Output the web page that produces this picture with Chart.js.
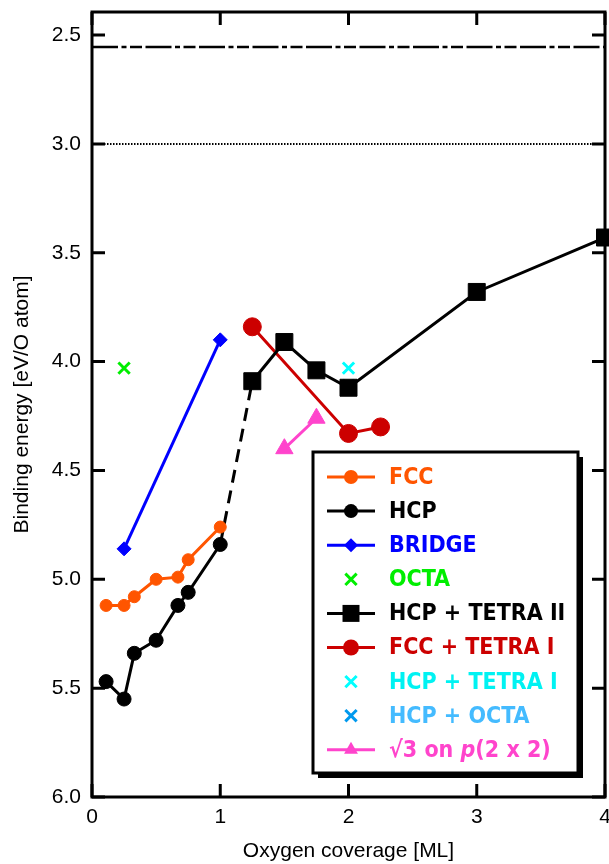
<!DOCTYPE html>
<html>
<head>
<meta charset="utf-8">
<script src="https://cdn.jsdelivr.net/npm/chart.js@4/dist/chart.umd.min.js"></script>
<style>
  html, body { margin: 0; padding: 0; background: #fff; }
</style>
</head>
<body>
<canvas id="energyChart" width="609" height="864"></canvas>
<script>
// values (x = coverage in ML, y = binding energy in eV/O atom)
var fccX = [0.11, 0.25, 0.33, 0.5, 0.67, 0.75, 1.0];
var fccY = [5.12, 5.12, 5.08, 5.0, 4.99, 4.91, 4.76];
var hcpX = [0.11, 0.25, 0.33, 0.5, 0.67, 0.75, 1.0];
var hcpY = [5.47, 5.55, 5.34, 5.28, 5.12, 5.06, 4.84];
var bridgeX = [0.25, 1.0];
var bridgeY = [4.86, 3.90];
var octaX = [0.25];
var octaY = [4.03];
var hcpTetra2X = [1.25, 1.5, 1.75, 2.0, 3.0, 4.0];
var hcpTetra2Y = [4.09, 3.91, 4.04, 4.12, 3.68, 3.43];
var fccTetra1X = [1.25, 2.0, 2.25];
var fccTetra1Y = [3.84, 4.33, 4.30];
var hcpTetra1X = [2.0];
var hcpTetra1Y = [4.03];
var hcpOctaX = [2.0];
var hcpOctaY = [4.11];
var sqrt3X = [1.5, 1.75];
var sqrt3Y = [4.40, 4.26];
var refLevels = [2.555, 3.0]; // dash-dot and dotted horizontal lines

var xTicks = [0, 1, 2, 3, 4];
var yTicks = [2.5, 3.0, 3.5, 4.0, 4.5, 5.0, 5.5, 6.0];

function pts(xs, ys) {
    return xs.map(function (x, i) { return { x: x, y: ys[i] }; });
}

var lastHcp = hcpX.length - 1;

// series: line + marker
function series(label, xs, ys, color, style, radius, textColor, opts) {
    var ds = {
        label: label,
        data: pts(xs, ys),
        showLine: true,
        borderColor: color,
        backgroundColor: color,
        borderWidth: 3,
        pointStyle: style,
        pointRadius: radius,
        pointHoverRadius: radius,
        pointBorderWidth: 1,
        pointBackgroundColor: color,
        pointBorderColor: color,
        clip: false,
        legendColor: textColor || color,
        legendLine: true
    };
    if (opts) Object.assign(ds, opts);
    return ds;
}

var datasets = [
    series('FCC', fccX, fccY, '#ff5500', 'circle', 6, null, { legendRadius: 7 }),
    series('HCP', hcpX, hcpY, '#000000', 'circle', 7, null, { legendRadius: 7 }),
    series('BRIDGE', bridgeX, bridgeY, '#0000ff', 'rectRot', 7, null, { legendRadius: 7 }),
    series('OCTA', octaX, octaY, '#00ee00', 'crossRot', 8, null,
        { showLine: false, pointBorderWidth: 3, legendLine: false, legendRadius: 8 }),
    series('HCP + TETRA II', hcpTetra2X, hcpTetra2Y, '#000000', 'rect', 12, null, { legendRadius: 12 }),
    series('FCC + TETRA I', fccTetra1X, fccTetra1Y, '#cc0000', 'circle', 9, null, { legendRadius: 8 }),
    series('HCP + TETRA I', hcpTetra1X, hcpTetra1Y, '#00ffff', 'crossRot', 8, '#00f2f2',
        { showLine: false, pointBorderWidth: 3, legendLine: false, legendRadius: 8 }),
    series('HCP + OCTA', hcpOctaX, hcpOctaY, '#0099ee', 'crossRot', 8, '#44bbff',
        { showLine: false, pointBorderWidth: 3, legendLine: false, legendRadius: 8 }),
    series('√3 on p(2 x 2)', sqrt3X, sqrt3Y, '#ff44cc', 'triangle', 10, null, { legendRadius: 8 }),
    // dashed link between HCP and HCP + TETRA II
    {
        label: '', data: [
            { x: hcpX[lastHcp], y: hcpY[lastHcp] },
            { x: hcpTetra2X[0], y: hcpTetra2Y[0] }
        ],
        showLine: true, borderColor: '#000', borderWidth: 3, borderDash: [13, 8],
        pointRadius: 0, noLegend: true
    },
    {
        label: '', data: [{ x: xTicks[0], y: refLevels[0] }, { x: xTicks[xTicks.length - 1], y: refLevels[0] }],
        showLine: true, borderColor: '#000', borderWidth: 2.5, borderDash: [26, 3.5, 5, 3.5, 12, 3.5],
        pointRadius: 0, noLegend: true
    },
    {
        label: '', data: [{ x: xTicks[0], y: refLevels[1] }, { x: xTicks[xTicks.length - 1], y: refLevels[1] }],
        showLine: true, borderColor: '#000', borderWidth: 2, borderDash: [1.5, 1.5],
        pointRadius: 0, noLegend: true
    }
];

function drawMarker(ctx, style, x, y, r, color) {
    ctx.save();
    ctx.fillStyle = color;
    ctx.strokeStyle = color;
    ctx.beginPath();
    if (style === 'circle') {
        ctx.arc(x, y, r, 0, Math.PI * 2);
        ctx.fill();
    } else if (style === 'rect') {
        var s = r * Math.SQRT1_2;
        ctx.fillRect(x - s, y - s, 2 * s, 2 * s);
    } else if (style === 'rectRot') {
        ctx.moveTo(x, y - r); ctx.lineTo(x + r, y); ctx.lineTo(x, y + r); ctx.lineTo(x - r, y);
        ctx.closePath(); ctx.fill();
    } else if (style === 'triangle') {
        var h = r * Math.sqrt(3) / 2;
        ctx.moveTo(x, y - r); ctx.lineTo(x + h, y + r / 2); ctx.lineTo(x - h, y + r / 2);
        ctx.closePath(); ctx.fill();
    } else if (style === 'crossRot') {
        var d = r * Math.SQRT1_2;
        ctx.lineWidth = 3;
        ctx.moveTo(x - d, y - d); ctx.lineTo(x + d, y + d);
        ctx.moveTo(x + d, y - d); ctx.lineTo(x - d, y + d);
        ctx.stroke();
    }
    ctx.restore();
}

// frame and inward ticks on all four sides
var framePlugin = {
    id: 'frame',
    beforeDatasetsDraw: function (chart) {
        var ctx = chart.ctx, a = chart.chartArea;
        var xs = chart.scales.x, ys = chart.scales.y;
        var len = 13;
        ctx.save();
        ctx.strokeStyle = '#000';
        ctx.lineWidth = 3;
        ctx.beginPath();
        xTicks.forEach(function (v) {
            var px = xs.getPixelForValue(v);
            ctx.moveTo(px, a.bottom); ctx.lineTo(px, a.bottom - len);
            ctx.moveTo(px, a.top); ctx.lineTo(px, a.top + len);
        });
        yTicks.forEach(function (v) {
            var py = ys.getPixelForValue(v);
            ctx.moveTo(a.left, py); ctx.lineTo(a.left + len, py);
            ctx.moveTo(a.right, py); ctx.lineTo(a.right - len, py);
        });
        ctx.stroke();
        ctx.strokeRect(a.left, a.top, a.right - a.left, a.bottom - a.top);
        ctx.restore();
    }
};

// boxed legend with drop shadow inside the plot
var legendPlugin = {
    id: 'boxLegend',
    afterDraw: function (chart) {
        var ctx = chart.ctx, a = chart.chartArea;
        var bx = a.left + 221, by = 452, bw = 265, bh = 321;
        ctx.save();
        ctx.fillStyle = '#000';
        ctx.fillRect(bx + 5, by + 5, bw, bh);
        ctx.fillStyle = '#fff';
        ctx.fillRect(bx, by, bw, bh);
        ctx.strokeStyle = '#000';
        ctx.lineWidth = 3;
        ctx.strokeRect(bx, by, bw, bh);

        var items = chart.data.datasets.filter(function (d) { return !d.noLegend; });
        var rowH = 34.1, y0 = by + 25;
        var symX = bx + 38, textX = bx + 76;
        items.forEach(function (d, i) {
            var y = y0 + i * rowH;
            if (d.legendLine) {
                ctx.strokeStyle = d.borderColor;
                ctx.lineWidth = 3;
                ctx.beginPath();
                ctx.moveTo(symX - 24, y); ctx.lineTo(symX + 24, y);
                ctx.stroke();
            }
            drawMarker(ctx, d.pointStyle, symX, y, d.legendRadius, d.pointBackgroundColor);
            ctx.fillStyle = d.legendColor;
            ctx.textBaseline = 'middle';
            ctx.textAlign = 'left';
            var font = 'bold 23px "DejaVu Sans Condensed", "DejaVu Sans"';
            var italic = 'italic bold 23px "DejaVu Sans Condensed", "DejaVu Sans"';
            var idx = d.label.indexOf('p(');
            if (idx >= 0) {
                var parts = [[d.label.slice(0, idx), font], ['p', italic], [d.label.slice(idx + 1), font]];
                var tx = textX;
                parts.forEach(function (p) {
                    ctx.font = p[1];
                    ctx.fillText(p[0], tx, y + 1);
                    tx += ctx.measureText(p[0]).width;
                });
            } else {
                ctx.font = font;
                ctx.fillText(d.label, textX, y + 1);
            }
        });
        ctx.restore();
    }
};

function noEdgePadding(s) {
    s.paddingTop = 0; s.paddingBottom = 0; s.paddingLeft = 0; s.paddingRight = 0;
}

var axisFont = { family: '"Liberation Sans", Arial, sans-serif', size: 21 };

new Chart(document.getElementById('energyChart'), {
    type: 'scatter',
    data: { datasets: datasets },
    options: {
        responsive: false,
        animation: false,
        events: [],
        layout: { autoPadding: false, padding: { top: 12, right: 4, left: 0, bottom: 0 } },
        elements: { line: { tension: 0 } },
        plugins: {
            legend: { display: false },
            tooltip: { enabled: false }
        },
        scales: {
            x: {
                type: 'linear',
                min: xTicks[0],
                max: xTicks[xTicks.length - 1],
                afterBuildTicks: function (s) { s.ticks = xTicks.map(function (v) { return { value: v }; }); },
                afterFit: function (s) { s.height = 67; noEdgePadding(s); },
                grid: { display: false, drawTicks: false },
                border: { display: false },
                ticks: { color: '#000', font: axisFont, padding: 8, maxRotation: 0 },
                title: {
                    display: true, text: 'Oxygen coverage [ML]', color: '#000',
                    font: axisFont, padding: { top: 0, bottom: 0 }
                }
            },
            y: {
                type: 'linear',
                reverse: true,
                min: 2.394,
                max: 6.0,
                afterBuildTicks: function (s) { s.ticks = yTicks.map(function (v) { return { value: v }; }); },
                afterFit: function (s) { s.width = 92; noEdgePadding(s); },
                grid: { display: false, drawTicks: false },
                border: { display: false },
                ticks: {
                    color: '#000', font: axisFont, padding: 11,
                    callback: function (v) { return Number(v).toFixed(1); }
                },
                title: {
                    display: true, text: 'Binding energy [eV/O atom]', color: '#000',
                    font: axisFont, padding: { top: 10, bottom: 10 }
                }
            }
        }
    },
    plugins: [framePlugin, legendPlugin]
});
</script>
</body>
</html>
